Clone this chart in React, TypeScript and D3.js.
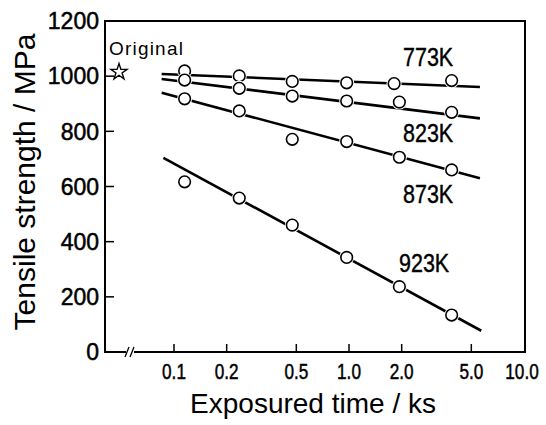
import React from "react";
import * as d3 from "d3";

const temps = ["773K", "823K", "873K", "923K"];
const times = [0.115, 0.236, 0.474, 0.97, 1.94, 3.86];
const times773 = [0.115, 0.236, 0.474, 0.97, 1.81, 3.86];
const s773 = [1019, 1001, 981, 976, 973, 984];
const s823 = [986, 956, 928, 910, 906, 869];
const s873 = [918, 874, 771, 763, 706, 660];
const s923 = [617, 558, 460, 343, 237, 134];
// fitted lines: [start time, start value, end time, end value]
const fit773 = [0.085, 1008, 5.6, 961];
const fit823 = [0.085, 990, 5.6, 847];
const fit873 = [0.085, 940, 5.6, 630];
const fit923 = [0.087, 704, 5.7, 77];
const originalStrength = 1015;
const xTicks = [0.1, 0.2, 0.5, 1, 2, 5, 10];
const xTickLabels = ["0.1", "0.2", "0.5", "1.0", "2.0", "5.0", "10.0"];
const yTicks = [0, 200, 400, 600, 800, 1000, 1200];

const width = 546;
const height = 425;
const margin = { top: 21, right: 21, bottom: 73, left: 105 };

export default function App() {
  const x = d3.scaleLog().domain([0.1, 10]).range([174, 524]);
  const y = d3
    .scaleLinear()
    .domain([0, 1200])
    .range([height - margin.bottom, margin.top]);
  const x0 = margin.left;
  const x1 = width - margin.right;
  const y0 = height - margin.bottom;

  const series = [
    { name: temps[0], t: times773, v: s773, fit: fit773, label: [403, 66] },
    { name: temps[1], t: times, v: s823, fit: fit823, label: [403, 142] },
    { name: temps[2], t: times, v: s873, fit: fit873, label: [403, 203] },
    { name: temps[3], t: times, v: s923, fit: fit923, label: [399, 272] },
  ];

  const line = d3
    .line<[number, number]>()
    .x((d) => x(d[0]))
    .y((d) => y(d[1]));

  const star = d3.symbol().type(d3.symbolStar).size(80)();
  const labelFont = "'Liberation Sans', Arial, sans-serif";

  return (
    <svg
      width={width}
      height={height}
      style={{ position: "absolute", left: 0, top: 0, background: "white" }}
      fontFamily={labelFont}
    >
      {/* frame */}
      <path
        d={`M${x0},${y0}V${margin.top}H${x1}V${y0}Z`}
        fill="none"
        stroke="black"
        strokeWidth={2}
      />
      {/* axis break */}
      <rect x={126} y={y0 - 4} width={8} height={8} fill="white" />
      <path
        d={`M125,${y0 + 5}L129,${y0 - 5}M130,${y0 + 5}L134,${y0 - 5}`}
        stroke="black"
        strokeWidth={1.3}
      />

      {yTicks.map((t) => (
        <g key={t}>
          <line x1={x0} x2={x0 + 9} y1={y(t)} y2={y(t)} stroke="black" strokeWidth={1.5} />
          <text
            x={99}
            y={y(t)}
            dy="0.36em"
            textAnchor="end"
            fontSize={23}
            stroke="black"
            strokeWidth={0.5}
          >
            {t}
          </text>
        </g>
      ))}
      {xTicks.map((t, i) => {
        const last = i === xTicks.length - 1;
        const cx = last ? x(t) - 2 : x(t);
        return (
          <g key={t}>
            {!last && (
              <line x1={x(t)} x2={x(t)} y1={y0} y2={y0 - 8} stroke="black" strokeWidth={1.5} />
            )}
            <text
              transform={`translate(${cx},379) scale(0.78,1)`}
              textAnchor="middle"
              fontSize={22}
              stroke="black"
              strokeWidth={0.5}
            >
              {xTickLabels[i]}
            </text>
          </g>
        );
      })}

      <text
        transform="translate(35,182) rotate(-90)"
        textAnchor="middle"
        fontSize={30}
      >
        Tensile strength / MPa
      </text>
      <text x={313} y={413} textAnchor="middle" fontSize={28}>
        Exposured time / ks
      </text>

      {series.map((s) => (
        <path
          key={s.name + "fit"}
          d={line([
            [s.fit[0], s.fit[1]],
            [s.fit[2], s.fit[3]],
          ])!}
          fill="none"
          stroke="black"
          strokeWidth={2.6}
        />
      ))}
      {series.map((s) => (
        <g key={s.name}>
          {s.v.map((v, i) => (
            <g key={i}>
              <circle cx={x(s.t[i])} cy={y(v)} r={7.5} fill="white" />
              <circle
                cx={x(s.t[i])}
                cy={y(v)}
                r={5.8}
                fill="white"
                stroke="black"
                strokeWidth={1.6}
              />
            </g>
          ))}
          <text
            transform={`translate(${s.label[0]},${s.label[1]}) scale(0.86,1)`}
            fontSize={25}
            stroke="black"
            strokeWidth={0.4}
          >
            {s.name}
          </text>
        </g>
      ))}

      <path
        d={star!}
        transform={`translate(${x0 + 14},${y(originalStrength)})`}
        fill="white"
        stroke="black"
        strokeWidth={1.4}
      />
      <text x={109} y={55} fontSize={19} letterSpacing={1.2}>
        Original
      </text>
    </svg>
  );
}
